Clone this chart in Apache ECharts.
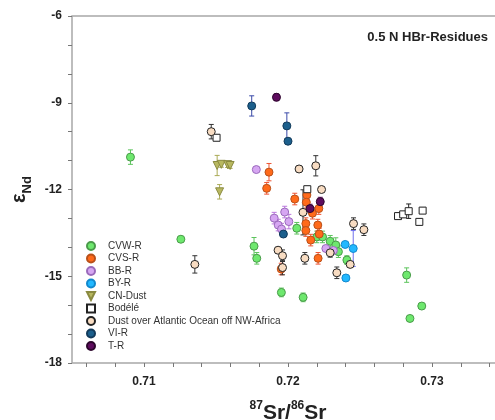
<!DOCTYPE html>
<html>
<head>
<meta charset="utf-8">
<script src="https://cdn.jsdelivr.net/npm/echarts@6/dist/echarts.min.js"></script>
<style>
  html, body { margin: 0; padding: 0; background: #fff; }
  #main { width: 495px; height: 420px; }
</style>
</head>
<body>
<div id="main"></div>
<script>
// [87Sr/86Sr, eNd, error]
const cvwR = [
  [0.70906, -10.88, 0.25], [0.71256, -13.72, 0.1], [0.71764, -13.96, 0.3], [0.71783, -14.38, 0.2],
  [0.71954, -15.56, 0.15], [0.72105, -15.73, 0.15], [0.72061, -13.34, 0.2], [0.72200, -13.64, 0.2],
  [0.72240, -13.64, 0.2], [0.72293, -13.79, 0.2], [0.72332, -13.92, 0.25], [0.72350, -14.15, 0.2],
  [0.72409, -14.44, 0.15], [0.72824, -14.96, 0.25], [0.72929, -16.03, 0.1], [0.72847, -16.46, 0.1]
];
const cvsR = [
  [0.71868, -11.40, 0.3], [0.71852, -11.96, 0.2], [0.72047, -12.33, 0.2], [0.72131, -12.19, 0.2],
  [0.72127, -12.44, 0.2], [0.72170, -12.82, 0.2], [0.72214, -12.66, 0.2], [0.72124, -13.18, 0.2],
  [0.72124, -13.42, 0.2], [0.72158, -13.75, 0.2], [0.72207, -13.23, 0.2], [0.72217, -13.54, 0.2],
  [0.72209, -14.38, 0.2], [0.71953, -14.75, 0.2]
];
const bbR = [
  [0.71780, -11.31, 0.1], [0.71904, -12.99, 0.2], [0.71977, -12.78, 0.2], [0.71932, -13.23, 0.2],
  [0.72006, -13.11, 0.25], [0.71955, -13.37, 0.2], [0.72263, -14.04, 0.1], [0.72315, -14.11, 0.1]
];
const byR = [
  [0.72397, -13.90, 0.1], [0.72453, -14.04, 0.62], [0.72402, -15.06, 0.1]
];
const cnDust = [
  [0.71508, -11.17, 0.35], [0.71537, -11.13, 0.1], [0.71581, -11.14, 0.1], [0.71598, -11.17, 0.1],
  [0.71525, -12.08, 0.25]
];
const bodele = [
  [0.71504, -10.21, 0.1], [0.72134, -11.99, 0.1], [0.72764, -12.92, 0.1], [0.72800, -12.86, 0.1],
  [0.72838, -12.75, 0.25], [0.72912, -13.12, 0.1], [0.72935, -12.73, 0.1]
];
const dustAtl = [
  [0.71467, -10.00, 0.25], [0.71353, -14.59, 0.3], [0.72077, -11.29, 0.1], [0.72193, -11.18, 0.35],
  [0.72233, -12.00, 0.1], [0.72104, -12.79, 0.78], [0.72455, -13.18, 0.2], [0.72527, -13.39, 0.2],
  [0.71931, -14.10, 0.1], [0.71962, -14.29, 0.2], [0.71962, -14.70, 0.25], [0.72117, -14.38, 0.2],
  [0.72293, -14.19, 0.15], [0.72339, -14.88, 0.2], [0.72432, -14.59, 0.1]
];
const viR = [
  [0.71748, -9.11, 0.35], [0.71992, -9.80, 0.45], [0.72000, -10.33, 0.1], [0.71968, -13.54, 0.1]
];
const tR = [
  [0.71920, -8.81, 0.12], [0.72153, -12.66, 0.15], [0.72224, -12.42, 0.15]
];

const xTicks = [0.706, 0.708, 0.71, 0.712, 0.714, 0.716, 0.718, 0.72, 0.722, 0.724, 0.726, 0.728, 0.73, 0.732, 0.734];
const xLabels = [0.71, 0.72, 0.73];
const yTicks = [-18, -17, -16, -15, -14, -13, -12, -11, -10, -9, -8, -7, -6];
const yLabels = [-18, -15, -12, -9, -6];

const groups = [
  { name: 'CVW-R', data: cvwR, fill: '#6ee86e', edge: '#4a9a4a', bar: '#5cc45c', symbol: 'circle', size: 8 },
  { name: 'CVS-R', data: cvsR, fill: '#ff6a1a', edge: '#b8501a', bar: '#ee5533', symbol: 'circle', size: 8 },
  { name: 'BB-R', data: bbR, fill: '#d6a6f2', edge: '#9a6abb', bar: '#bb77dd', symbol: 'circle', size: 8 },
  { name: 'BY-R', data: byR, fill: '#22b8ff', edge: '#1288cc', bar: '#6f6fee', symbol: 'circle', size: 8 },
  { name: 'CN-Dust', data: cnDust, fill: '#b8b860', edge: '#8a8a40', bar: '#aaaa55', symbol: 'path://M0,0 L10,0 L5,10 Z', size: 8 },
  { name: 'Bodélé', data: bodele, fill: '#ffffff', edge: '#222222', bar: '#222222', symbol: 'rect', size: 7 },
  { name: 'Dust over Atlantic Ocean off NW-Africa', data: dustAtl, fill: '#f8dcc2', edge: '#222222', bar: '#333333', symbol: 'circle', size: 8 },
  { name: 'VI-R', data: viR, fill: '#1c5f8c', edge: '#123a5a', bar: '#3a4aa8', symbol: 'circle', size: 8 },
  { name: 'T-R', data: tR, fill: '#5e0c5e', edge: '#2c062c', bar: '#5e0c5e', symbol: 'circle', size: 8 }
];

const series = [];
groups.forEach(function (g) {
  series.push({
    type: 'custom',
    name: 'err ' + g.name,
    z: 1,
    silent: true,
    data: g.data,
    renderItem: function (params, api) {
      const x = api.value(0), y = api.value(1), e = api.value(2);
      const top = api.coord([x, y + e]);
      const bot = api.coord([x, y - e]);
      const st = { stroke: g.bar, lineWidth: 1 };
      return {
        type: 'group',
        children: [
          { type: 'line', shape: { x1: top[0], y1: top[1], x2: bot[0], y2: bot[1] }, style: st },
          { type: 'line', shape: { x1: top[0] - 2.5, y1: top[1], x2: top[0] + 2.5, y2: top[1] }, style: st },
          { type: 'line', shape: { x1: bot[0] - 2.5, y1: bot[1], x2: bot[0] + 2.5, y2: bot[1] }, style: st }
        ]
      };
    }
  });
});
groups.forEach(function (g) {
  series.push({
    type: 'scatter',
    name: g.name,
    z: 2,
    symbol: g.symbol,
    symbolSize: g.size,
    data: g.data.map(function (d) { return [d[0], d[1]]; }),
    itemStyle: { color: g.fill, borderColor: g.edge, borderWidth: 1, opacity: 1 }
  });
});

const chart = echarts.init(document.getElementById('main'));
chart.setOption({
  animation: false,
  title: {
    text: '0.5 N HBr-Residues',
    right: 2, top: 26,
    textStyle: { fontFamily: 'Liberation Sans', fontSize: 13, fontWeight: 'bold', color: '#222' }
  },
  legend: {
    orient: 'vertical',
    left: 86, top: 241, padding: 0,
    itemWidth: 8, itemHeight: 8, itemGap: 2.5,
    data: groups.map(function (g) { return g.name; }),
    textStyle: { fontFamily: 'Liberation Sans', fontSize: 10, color: '#333', padding: [0, 0, 0, 8] }
  },
  grid: {
    left: 72, top: 16, right: -9, bottom: 57,
    outerBoundsMode: 'none',
    show: true, borderColor: '#a8a8a8', borderWidth: 1.5
  },
  xAxis: {
    type: 'value', min: 0.705, max: 0.735,
    axisLine: { show: false },
    splitLine: { show: false },
    axisTick: { show: true, length: 4, lineStyle: { color: '#777' }, customValues: xTicks },
    axisLabel: {
      customValues: xLabels, margin: 13,
      fontFamily: 'Liberation Sans', fontSize: 12, fontWeight: 'bold', color: '#222',
      formatter: function (v) { return v.toFixed(2); }
    },
    name: '{s|87}{b|Sr/}{s|86}{b|Sr}',
    nameLocation: 'middle', nameGap: 37,
    nameTextStyle: {
      rich: {
        b: { fontFamily: 'Liberation Sans', fontSize: 21, fontWeight: 'bold', color: '#222', lineHeight: 24, verticalAlign: 'bottom' },
        s: { fontFamily: 'Liberation Sans', fontSize: 12, fontWeight: 'bold', color: '#222', lineHeight: 24, verticalAlign: 'top' }
      }
    }
  },
  yAxis: {
    type: 'value', min: -18, max: -6,
    axisLine: { show: false },
    splitLine: { show: false },
    axisTick: { show: true, length: 4, lineStyle: { color: '#777' }, customValues: yTicks },
    axisLabel: {
      customValues: yLabels, margin: 10,
      fontFamily: 'Liberation Sans', fontSize: 12, fontWeight: 'bold', color: '#222'
    },
    name: '{e|ε}{n|Nd}',
    nameLocation: 'middle', nameRotate: 90, nameGap: 38,
    nameTextStyle: {
      rich: {
        e: { fontFamily: 'Liberation Sans', fontSize: 20, fontWeight: 'bold', color: '#222', lineHeight: 24, verticalAlign: 'top' },
        n: { fontFamily: 'Liberation Sans', fontSize: 13, fontWeight: 'bold', color: '#222', lineHeight: 24, verticalAlign: 'bottom' }
      }
    }
  },
  series: series
});
</script>
</body>
</html>
